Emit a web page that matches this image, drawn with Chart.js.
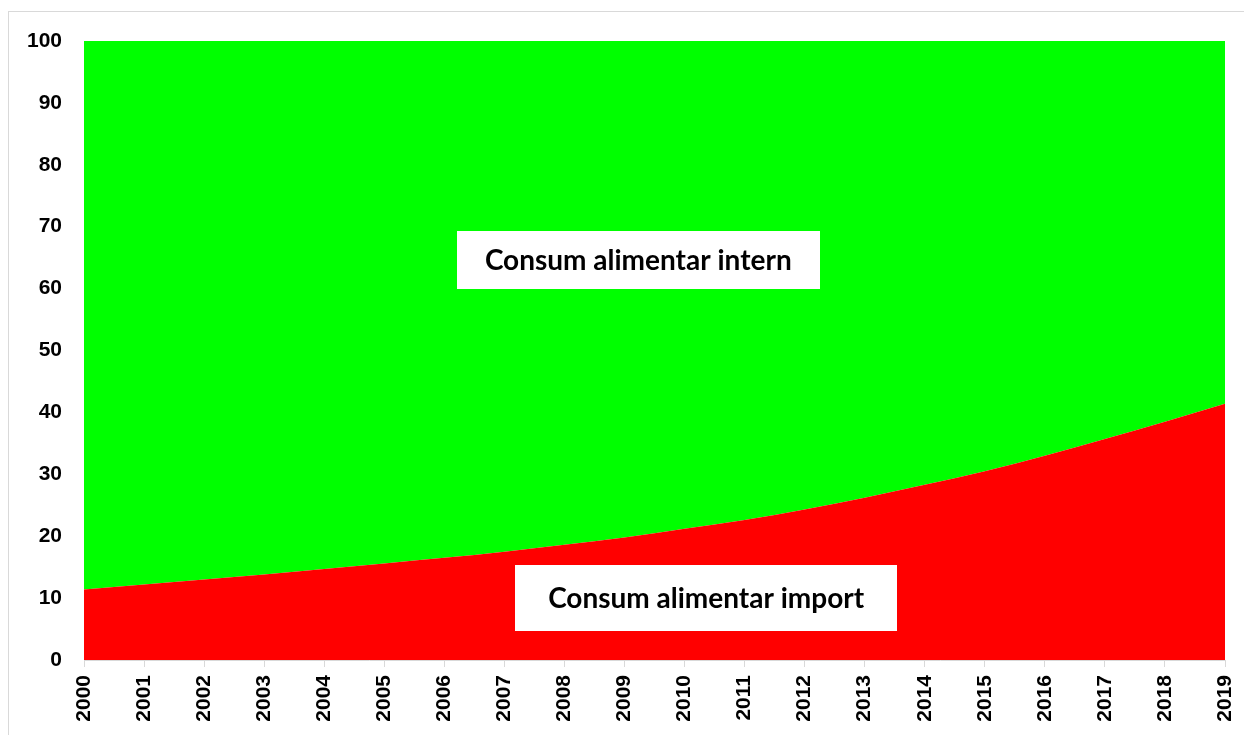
<!DOCTYPE html>
<html>
<head>
<meta charset="utf-8">
<script src="https://cdn.jsdelivr.net/npm/chart.js@4.4.1/dist/chart.umd.min.js"></script>
<style>
  html, body { margin: 0; padding: 0; background: #fff; overflow: hidden; }
  #frame { position: absolute; left: 8px; top: 11px; width: 1300px; height: 800px; border: 1px solid #d9d9d9; }
  #wrap { position: absolute; left: 0; top: 0; width: 1244px; height: 735px; }
</style>
</head>
<body>
<div id="frame"></div>
<div id="wrap"><canvas id="myChart"></canvas></div>
<script>
const years = ['2000','2001','2002','2003','2004','2005','2006','2007','2008','2009',
               '2010','2011','2012','2013','2014','2015','2016','2017','2018','2019'];

// share of food consumption covered by imports (%)
const importShare = [11.4, 12.2, 13.0, 13.8, 14.7, 15.6, 16.5, 17.5, 18.6, 19.8,
                     21.2, 22.6, 24.3, 26.2, 28.3, 30.5, 33.0, 35.7, 38.5, 41.4];
// share covered by domestic production (%)
const internShare = [88.6, 87.8, 87.0, 86.2, 85.3, 84.4, 83.5, 82.5, 81.4, 80.2,
                     78.8, 77.4, 75.7, 73.8, 71.7, 69.5, 67.0, 64.3, 61.5, 58.6];

const yTicks = [0, 10, 20, 30, 40, 50, 60, 70, 80, 90, 100];

// labels sitting on the areas, centre given in data units
const areaLabels = [
  { text: 'Consum alimentar intern', x: 9.23, y: 64.6, w: 363, h: 58 },
  { text: 'Consum alimentar import', x: 10.36, y: 10.0, w: 382, h: 66 }
];

const labelBoxes = {
  id: 'labelBoxes',
  afterDatasetsDraw(chart) {
    const c = chart.ctx;
    const xs = chart.scales.x, ys = chart.scales.y;
    c.save();
    areaLabels.forEach(function (l) {
      const cx = xs.getPixelForValue(l.x);
      const cy = ys.getPixelForValue(l.y);
      c.fillStyle = '#ffffff';
      c.fillRect(Math.round(cx - l.w / 2), Math.round(cy - l.h / 2), l.w, l.h);
      c.fillStyle = '#000000';
      c.font = 'bold 28px Lato, sans-serif';
      c.textAlign = 'center';
      c.textBaseline = 'middle';
      c.fillText(l.text, cx, cy + 1);
    });
    c.restore();
  }
};

const ctx = document.getElementById('myChart');

new Chart(ctx, {
  type: 'line',
  data: {
    labels: years,
    datasets: [{
      label: 'Consum alimentar import',
      data: importShare,
      backgroundColor: '#ff0000',
      borderWidth: 0,
      pointRadius: 0,
      fill: 'origin',
      cubicInterpolationMode: 'monotone'
    }, {
      label: 'Consum alimentar intern',
      data: internShare,
      backgroundColor: '#00ff00',
      borderWidth: 0,
      pointRadius: 0,
      fill: '-1',
      cubicInterpolationMode: 'monotone'
    }]
  },
  options: {
    responsive: true,
    maintainAspectRatio: false,
    animation: false,
    layout: { padding: { left: 0, top: 41, right: 19, bottom: 0 } },
    plugins: {
      legend: { display: false },
      tooltip: { enabled: false }
    },
    scales: {
      x: {
        offset: false,
        grid: { display: true, drawOnChartArea: false, drawTicks: true, tickLength: 7, color: '#d9d9d9' },
        border: { display: true, color: '#d9d9d9', width: 1 },
        ticks: {
          minRotation: 90, maxRotation: 90, padding: 8, autoSkip: false,
          color: '#000', font: { family: 'Liberation Sans, Arial, sans-serif', size: 21, weight: 'bold' }
        },
        afterFit(scale) {
          scale.height = 75;
          scale.paddingLeft = 0;
          scale.paddingRight = 0;
        }
      },
      y: {
        stacked: true,
        min: 0, max: 100,
        afterBuildTicks(scale) { scale.ticks = yTicks.map(v => ({ value: v })); },
        grid: { display: false },
        border: { display: false },
        ticks: {
          padding: 14,
          color: '#000', font: { family: 'Liberation Sans, Arial, sans-serif', size: 21, weight: 'bold' }
        },
        afterFit(scale) { scale.width = 84; }
      }
    }
  },
  plugins: [labelBoxes]
});
</script>
</body>
</html>
